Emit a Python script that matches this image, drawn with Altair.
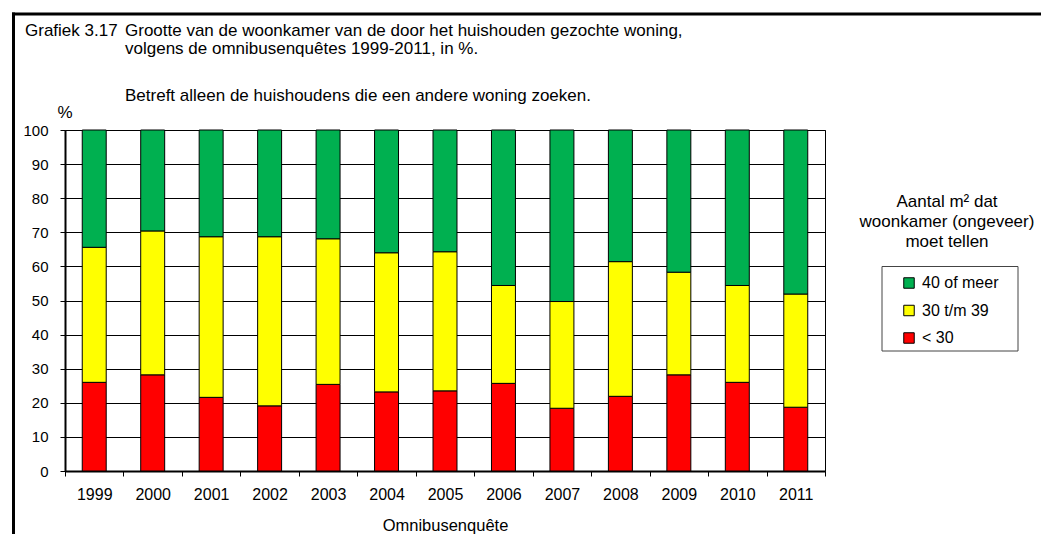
import altair as alt
import pandas as pd

# ---- data ----
years = [str(y) for y in range(1999, 2012)]
lt30 = [26.0, 28.2, 21.6, 19.1, 25.4, 23.2, 23.5, 25.7, 18.4, 21.9, 28.2, 26.0, 18.7]
b30_39 = [39.6, 42.2, 47.1, 49.6, 42.7, 40.8, 40.8, 28.7, 31.3, 39.5, 30.1, 28.4, 33.2]
ge40 = [34.4, 29.6, 31.3, 31.3, 31.9, 36.0, 35.7, 45.6, 50.3, 38.6, 41.7, 45.6, 48.1]
categories = ["40 of meer", "30 t/m 39", "< 30"]
colors = ["#00B050", "#FFFF00", "#FF0000"]
y_ticks = list(range(0, 101, 10))

title_lines = [
    "Grafiek 3.17",
    "Grootte van de woonkamer van de door het huishouden  gezochte woning,",
    "volgens de omnibusenquêtes  1999-2011, in %.",
    "Betreft alleen de huishoudens  die een andere woning zoeken.",
]
legend_title = ["Aantal m² dat", "woonkamer (ongeveer)", "moet tellen"]

rows = []
series = [("< 30", lt30, 0), ("30 t/m 39", b30_39, 1), ("40 of meer", ge40, 2)]
for i, yr in enumerate(years):
    for cat, vals, o in series:
        rows.append({"jaar": yr, "cat": cat, "pct": vals[i], "ord": o})
df = pd.DataFrame(rows)

W, H = 760, 341
FONT = "Liberation Sans"

bars = alt.Chart(df).mark_bar(
    width=alt.RelativeBandSize(0.41), stroke="black", strokeWidth=1
).encode(
    x=alt.X(
        "jaar:N",
        title="Omnibusenquête",
        sort=years,
        scale=alt.Scale(paddingInner=0, paddingOuter=0),
        axis=alt.Axis(
            labelAngle=0, tickBand="extent", tickSize=5, tickColor="black",
            domainColor="black", domainWidth=2, labelPadding=10, titlePadding=15,
            grid=False, labelFontSize=16, titleFontSize=16.5,
        ),
    ),
    y=alt.Y(
        "pct:Q",
        stack="zero",
        title=None,
        scale=alt.Scale(domain=[0, 100], nice=False),
        axis=alt.Axis(
            values=y_ticks, grid=True, gridColor="black", gridWidth=1, gridOpacity=1,
            tickSize=5, tickColor="black", domainColor="black", domainWidth=2,
            labelPadding=12, labelFontSize=15,
        ),
    ),
    color=alt.Color(
        "cat:N",
        scale=alt.Scale(domain=categories, range=colors),
        legend=alt.Legend(
            title=None, orient="none", legendX=836, legendY=145, direction="vertical",
            symbolType="square", symbolSize=110, symbolStrokeColor="black",
            symbolStrokeWidth=1, symbolOpacity=1, labelFont=FONT, labelFontSize=16,
            labelColor="black", labelOffset=5, rowPadding=11.5, padding=0,
        ),
    ),
    order=alt.Order("ord:Q"),
)

one = pd.DataFrame({"k": [0]})


def txt(s, x, y, align="left", size=17):
    return alt.Chart(one).mark_text(
        text=s, align=align, baseline="middle", font=FONT, fontSize=size, color="black"
    ).encode(x=alt.value(x), y=alt.value(y))


texts = [
    txt(title_lines[0], -40, -99),
    txt(title_lines[1], 60, -99),
    txt(title_lines[2], 60, -81),
    txt(title_lines[3], 60, -34),
    txt("%", 0, -17, align="center"),
]
for i, s in enumerate(legend_title):
    texts.append(txt(s, 882, 72 + 20 * i, align="center"))

legend_box = alt.Chart(one).mark_rect(
    fill="white", fillOpacity=0, stroke="#444444", strokeWidth=1
).encode(x=alt.value(817), x2=alt.value(953), y=alt.value(136.5), y2=alt.value(221))

frame_v = alt.Chart(one).mark_rule(color="black", strokeWidth=3).encode(
    x=alt.value(-51.5), y=alt.value(-117.5), y2=alt.value(430)
)
frame_h = alt.Chart(one).mark_rule(color="black", strokeWidth=3).encode(
    x=alt.value(-53), x2=alt.value(1000), y=alt.value(-116)
)

chart = alt.layer(legend_box, bars, frame_v, frame_h, *texts).properties(
    width=W, height=H,
    autosize=alt.AutoSizeParams(type="none"),
    padding={"left": 57, "top": 122, "right": 216, "bottom": 63},
).configure_view(stroke="black", strokeWidth=1).configure_axis(
    labelFont=FONT, labelColor="black",
    titleFont=FONT, titleFontWeight="normal", titleColor="black",
)

chart.save("out.html", embed_options={"renderer": "svg", "actions": False})
